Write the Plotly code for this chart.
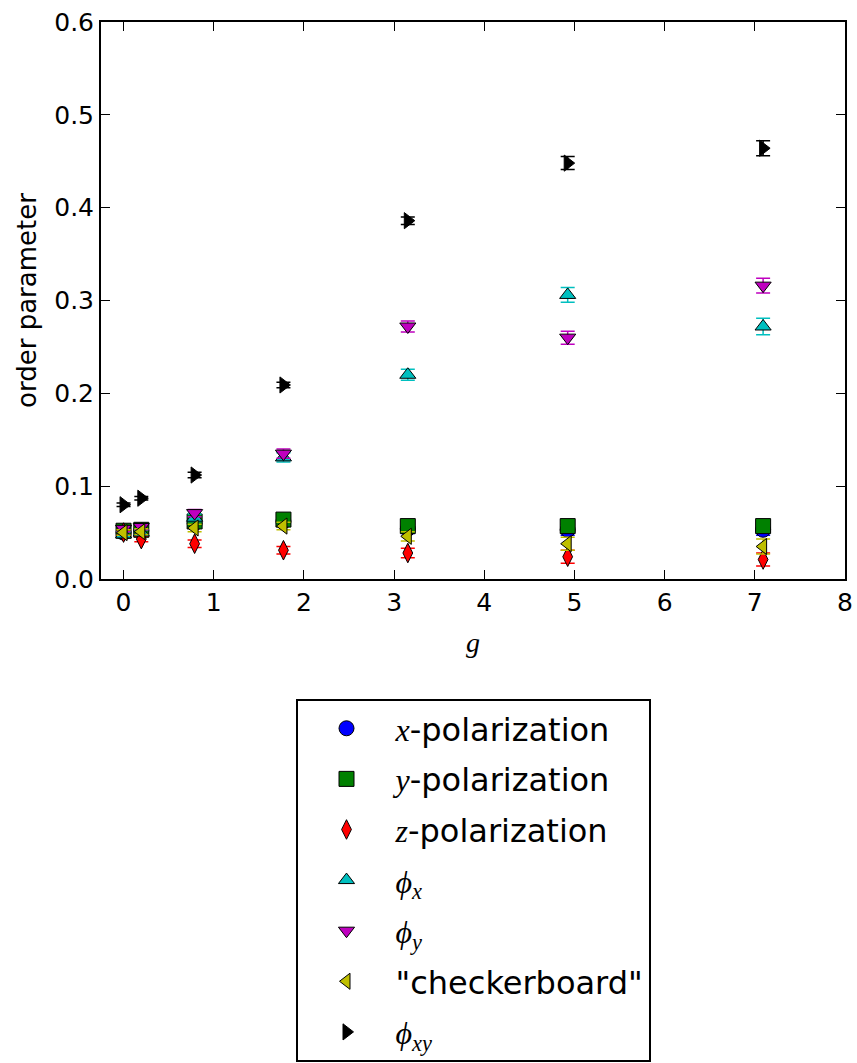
import plotly.graph_objects as go

# coupling values g
g = [0.0, 0.197, 0.788, 1.773, 3.152, 4.925, 7.092]

# order parameters and their statistical errors
x_pol = [0.050, 0.052, 0.060, 0.062, 0.054, 0.053, 0.053]
x_pol_err = [0.003, 0.003, 0.004, 0.004, 0.005, 0.006, 0.006]
y_pol = [0.052, 0.053, 0.062, 0.064, 0.057, 0.057, 0.057]
y_pol_err = [0.003, 0.003, 0.004, 0.004, 0.005, 0.006, 0.006]
z_pol = [0.050, 0.043, 0.038, 0.031, 0.028, 0.024, 0.021]
z_pol_err = [0.003, 0.003, 0.004, 0.004, 0.005, 0.007, 0.007]
phi_x = [0.048, 0.050, 0.066, 0.131, 0.220, 0.306, 0.272]
phi_x_err = [0.003, 0.003, 0.004, 0.005, 0.006, 0.008, 0.009]
phi_y = [0.054, 0.056, 0.071, 0.135, 0.272, 0.260, 0.316]
phi_y_err = [0.003, 0.003, 0.004, 0.005, 0.006, 0.007, 0.008]
checker = [0.050, 0.051, 0.055, 0.057, 0.046, 0.038, 0.035]
checker_err = [0.003, 0.003, 0.004, 0.004, 0.005, 0.007, 0.008]
phi_xy = [0.080, 0.087, 0.112, 0.209, 0.386, 0.448, 0.464]
phi_xy_err = [0.002, 0.002, 0.003, 0.003, 0.004, 0.007, 0.008]

MATH = "font-family:'Liberation Serif'"

def m(s):
    return f"<span style=\"{MATH}\"><i>{s}</i></span>"

series = [
    (m("x") + "-polarization", x_pol, x_pol_err, "#0000ff", "circle", 15),
    (m("y") + "-polarization", y_pol, y_pol_err, "#008000", "square", 15),
    (m("z") + "-polarization", z_pol, z_pol_err, "#ff0000", "diamond-tall", 14),
    (m("ϕ") + "<sub>" + m("x") + "</sub>", phi_x, phi_x_err, "#00bfbf", "triangle-up", 14),
    (m("ϕ") + "<sub>" + m("y") + "</sub>", phi_y, phi_y_err, "#bf00bf", "triangle-down", 14),
    ("\"checkerboard\"", checker, checker_err, "#bfbf00", "triangle-left", 14),
    (m("ϕ") + "<sub>" + m("xy") + "</sub>", phi_xy, phi_xy_err, "#000000", "triangle-right", 14),
]

fig = go.Figure()
for i, (name, vals, errs, color, symbol, size) in enumerate(series):
    fig.add_trace(go.Scatter(
        x=g, y=vals, name=name, mode="markers", legendgroup=f"g{i}",
        marker=dict(symbol=symbol, size=size, color=color,
                    line=dict(color="black", width=1)),
        error_y=dict(type="data", array=errs, visible=True, color=color,
                     thickness=1.5, width=7),
    ))

axis_common = dict(
    showline=True, linecolor="black", linewidth=2, mirror="ticks",
    ticks="inside", ticklen=9, tickwidth=1.2, tickcolor="black",
    showgrid=False, zeroline=False,
    tickfont=dict(family="DejaVu Sans", size=25, color="black"),
)

fig.update_xaxes(range=[-0.25, 8], dtick=1, tick0=0,
                 title=dict(text=m("g"), font=dict(size=28, color="black"), standoff=16),
                 **axis_common)
fig.update_yaxes(range=[0, 0.6], dtick=0.1, tick0=0, tickformat=".1f",
                 title=dict(text="order parameter",
                            font=dict(family="DejaVu Sans", size=26, color="black"),
                            standoff=10),
                 **axis_common)

fig.update_layout(
    width=857, height=1063,
    margin=dict(l=101, r=12, t=22, b=484, autoexpand=False),
    plot_bgcolor="white", paper_bgcolor="white",
    font=dict(family="DejaVu Sans", color="black"),
    showlegend=True,
    legend=dict(
        x=0.5, xanchor="center", y=-0.2154, yanchor="top",
        bordercolor="black", borderwidth=2, bgcolor="white",
        font=dict(family="DejaVu Sans", size=32, color="black"),
        itemwidth=88, tracegroupgap=6, itemsizing="trace",
    ),
)

fig.write_html("out.html")
